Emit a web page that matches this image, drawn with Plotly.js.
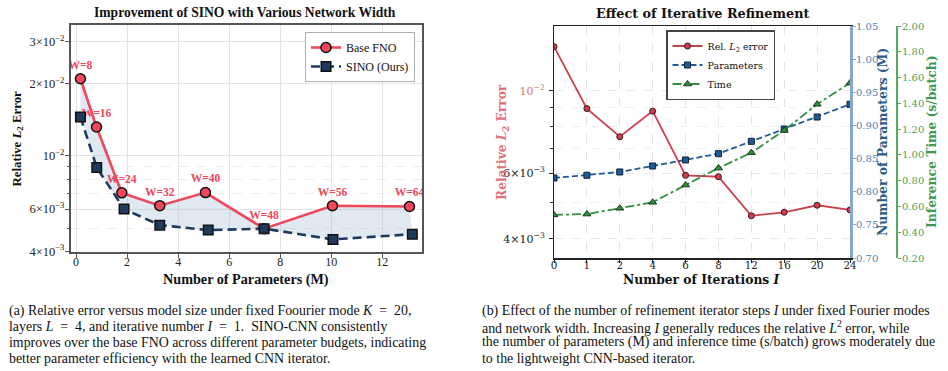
<!DOCTYPE html>
<html>
<head>
<meta charset="utf-8">
<script src="https://cdn.plot.ly/plotly-3.0.1.min.js"></script>
<style>
  html, body { margin: 0; padding: 0; background: #ffffff; }
  #fig { width: 948px; height: 371px; }
</style>
</head>
<body>
<div id="fig"></div>
<script>
// ---- (a) error vs. model size for several network widths ----
const widthLabels = ['W=8', 'W=16', 'W=24', 'W=32', 'W=40', 'W=48', 'W=56', 'W=64'];
const fnoParams  = [0.17, 0.80, 1.79, 3.28, 5.07, 7.37, 10.05, 13.07];
const fnoError   = [0.0210, 0.0132, 0.00701, 0.00620, 0.00703, 0.00497, 0.00619, 0.00615];
const sinoParams = [0.17, 0.81, 1.88, 3.28, 5.18, 7.37, 10.07, 13.18];
const sinoError  = [0.01454, 0.00894, 0.00600, 0.00514, 0.00490, 0.00497, 0.00448, 0.00471];

// ---- (b) effect of the number of refinement iterations ----
const iterations = ['0', '1', '2', '4', '6', '8', '12', '16', '20', '24'];
const relError   = [0.01313, 0.00895, 0.00752, 0.00881, 0.00592, 0.00587, 0.00461, 0.00471, 0.00492, 0.00478];
const paramCount = [0.8207, 0.8248, 0.8298, 0.8388, 0.8479, 0.8574, 0.8760, 0.8946, 0.9127, 0.9319];
const inferTime  = [0.534, 0.541, 0.586, 0.632, 0.766, 0.898, 1.017, 1.190, 1.393, 1.558];

// tick labels
const leftErrTicks = [0.004, 0.006, 0.01, 0.02, 0.03];
const leftErrText  = ['4×10<sup>−3</sup>', '6×10<sup>−3</sup>', '10<sup>−2</sup>', '2×10<sup>−2</sup>', '3×10<sup>−2</sup>'];
const rightErrTicks = [0.004, 0.006, 0.01];
const rightErrText  = ['4×10<sup>−3</sup>', '6×10<sup>−3</sup>', '<span style="color:#e0707a">10<sup>−2</sup></span>'];

const W = 948, H = 371;
const px = v => v / W;
const py = v => 1 - v / H;

const TIMES = 'Liberation Serif, Times New Roman, serif';
const DEJA = 'DejaVu Serif, serif';

const RED_A = '#f0475a', NAVY = '#1f3a5f';
const RED_B = '#cc3f4d', BLUE_B = '#1f5a94', GREEN_B = '#2f8f3f';

const traces = [
  // band between the two curves
  {
    x: fnoParams.concat(sinoParams.slice().reverse()),
    y: fnoError.concat(sinoError.slice().reverse()),
    xaxis: 'x', yaxis: 'y',
    mode: 'lines', fill: 'toself', fillcolor: 'rgba(160,182,210,0.32)',
    line: { width: 0 }, hoverinfo: 'skip', showlegend: false
  },
  {
    name: 'Base FNO', x: fnoParams, y: fnoError, text: widthLabels,
    xaxis: 'x', yaxis: 'y', legend: 'legend',
    mode: 'lines+markers+text', textposition: 'top center',
    textfont: { family: TIMES, size: 11.5, color: RED_A, weight: 'bold' },
    line: { color: RED_A, width: 2.6 },
    marker: { symbol: 'circle', size: 10, color: RED_A, line: { color: '#111', width: 1.5 } }
  },
  {
    name: 'SINO (Ours)', x: sinoParams, y: sinoError,
    xaxis: 'x', yaxis: 'y', legend: 'legend',
    mode: 'lines+markers',
    line: { color: NAVY, width: 2.6, dash: '9px,5px' },
    marker: { symbol: 'square', size: 9.5, color: NAVY, line: { color: '#111', width: 1.5 } }
  },
  {
    name: 'Rel. <i>L</i><sub>2</sub> error', x: iterations, y: relError,
    xaxis: 'x2', yaxis: 'y2', legend: 'legend2',
    mode: 'lines+markers',
    line: { color: RED_B, width: 1.8 },
    marker: { symbol: 'circle', size: 6, color: RED_B, line: { color: '#3a1418', width: 1 } }
  },
  {
    name: 'Parameters', x: iterations, y: paramCount,
    xaxis: 'x2', yaxis: 'y3', legend: 'legend2',
    mode: 'lines+markers',
    line: { color: BLUE_B, width: 1.8, dash: '6px,3px' },
    marker: { symbol: 'square', size: 6, color: BLUE_B, line: { color: '#0d2238', width: 1 } }
  },
  {
    name: 'Time', x: iterations, y: inferTime,
    xaxis: 'x2', yaxis: 'y4', legend: 'legend2',
    mode: 'lines+markers',
    line: { color: GREEN_B, width: 1.8, dash: 'dashdot' },
    marker: { symbol: 'triangle-up', size: 7, color: GREEN_B, line: { color: '#123a18', width: 1 } }
  }
];

const captionFont = { family: TIMES, size: 13.9, color: '#111' };
const capA = [
  '(a) Relative error versus model size under fixed Foourier mode <i>K</i>  =  20,',
  'layers <i>L</i>  =  4, and iterative number <i>I</i>  =  1.  SINO-CNN consistently',
  'improves over the base FNO across different parameter budgets, indicating',
  'better parameter efficiency with the learned CNN iterator.'
];
const capB = [
  '(b) Effect of the number of refinement iterator steps <i>I</i> under fixed Fourier modes',
  'and network width. Increasing <i>I</i> generally reduces the relative <i>L</i><sup>2</sup> error, while',
  'the number of parameters (M) and inference time (s/batch) grows moderately due',
  'to the lightweight CNN-based iterator.'
];
const capY = [311, 326.5, 342, 358];

const annotations = [
  { text: '<b>Improvement of SINO with Various Network Width</b>', x: px(245), y: py(12.5),
    font: { family: TIMES, size: 13.6, color: '#111' } },
  { text: '<b>Effect of Iterative Refinement</b>', x: px(702), y: py(14),
    font: { family: DEJA, size: 12.8, color: '#111' } },
  { text: '<b>Relative <i>L</i><sub>2</sub> Error</b>', x: px(17), y: py(138.5), textangle: -90,
    font: { family: TIMES, size: 12.8, color: '#111' } },
  { text: '<b>Number of Parameters (M)</b>', x: px(246), y: py(279.5),
    font: { family: TIMES, size: 14.2, color: '#111' } },
  { text: '<b>Number of Iterations <i>I</i></b>', x: px(702), y: py(279.5),
    font: { family: DEJA, size: 12.3, color: '#111' } },
  { text: '<b>Relative <i>L</i><sub>2</sub> Error</b>', x: px(503), y: py(142), textangle: -90,
    font: { family: DEJA, size: 12.2, color: '#e0707a' } },
  { text: '<b>Number of Parameters (M)</b>', x: px(882), y: py(142), textangle: -90,
    font: { family: DEJA, size: 12.4, color: '#2b5c8a' } },
  { text: '<b>Inference Time (s/batch)</b>', x: px(931), y: py(142), textangle: -90,
    font: { family: DEJA, size: 12.4, color: '#3e9a4e' } }
].map(a => Object.assign({ xref: 'paper', yref: 'paper', showarrow: false,
  xanchor: 'center', yanchor: 'middle' }, a));

capA.forEach((t, i) => annotations.push({ text: t, x: px(7), y: py(capY[i]), xref: 'paper', yref: 'paper',
  showarrow: false, xanchor: 'left', yanchor: 'middle', align: 'left', font: captionFont }));
capB.forEach((t, i) => annotations.push({ text: t, x: px(480), y: py(capY[i]), xref: 'paper', yref: 'paper',
  showarrow: false, xanchor: 'left', yanchor: 'middle', align: 'left', font: captionFont }));

const layout = {
  width: W, height: H, autosize: false,
  margin: { l: 0, r: 0, t: 0, b: 0, pad: 0 },
  paper_bgcolor: '#ffffff', plot_bgcolor: '#ffffff',
  showlegend: true,
  annotations: annotations,

  // (a)
  xaxis: {
    domain: [px(71), px(422)], anchor: 'y', range: [-0.2, 13.56],
    tickvals: [0, 2, 4, 6, 8, 10, 12], zeroline: false,
    showline: true, mirror: true, linecolor: '#555', linewidth: 2,
    ticks: 'outside', ticklen: 3.5, tickcolor: '#555', tickwidth: 1, ticklabelstandoff: -6,
    showgrid: true, gridcolor: '#e4e4e4', gridwidth: 1,
    tickfont: { family: TIMES, size: 12, color: '#222' }, automargin: false
  },
  yaxis: {
    domain: [py(252), py(25)], anchor: 'x', type: 'log',
    range: [Math.log10(0.00397), Math.log10(0.0352)],
    tickvals: leftErrTicks, ticktext: leftErrText,
    showline: true, mirror: true, linecolor: '#555', linewidth: 2,
    ticks: 'outside', ticklen: 4, tickcolor: '#555', ticklabelstandoff: -2,
    showgrid: true, gridcolor: '#e4e4e4', gridwidth: 1,
    minor: { tickvals: [0.005, 0.007, 0.008, 0.009], ticks: 'outside', ticklen: 2.5, tickcolor: '#555',
             showgrid: true, gridcolor: '#e9e9e9', griddash: 'dash', gridwidth: 0.8 },
    tickfont: { family: TIMES, size: 12.5, color: '#222' }, automargin: false
  },

  // (b)
  xaxis2: {
    domain: [px(554), px(850)], anchor: 'y2', type: 'category',
    categoryorder: 'array', categoryarray: iterations, range: [0, 9],
    showline: true, mirror: true, linecolor: '#222', linewidth: 1.5,
    ticks: 'outside', ticklen: 3, tickcolor: '#222', ticklabelstandoff: -6,
    showgrid: true, gridcolor: '#dddddd', griddash: 'dash', gridwidth: 0.8,
    tickfont: { family: DEJA, size: 10.3, color: '#222' }, automargin: false
  },
  yaxis2: {
    domain: [py(258), py(26)], anchor: 'x2', type: 'log',
    range: [Math.log10(0.00355), Math.log10(0.01492)],
    tickvals: rightErrTicks, ticktext: rightErrText,
    showline: true, linecolor: '#222', linewidth: 1.5,
    ticks: 'outside', ticklen: 3.5, tickcolor: '#222', ticklabelstandoff: 2,
    showgrid: true, gridcolor: '#e2e2e2', griddash: 'dash', gridwidth: 0.8,
    minor: { tickvals: [0.005, 0.007, 0.008, 0.009], ticks: 'outside', ticklen: 2.5, tickcolor: '#222',
             showgrid: true, gridcolor: '#eeeeee', griddash: 'dash', gridwidth: 0.8 },
    tickfont: { family: DEJA, size: 11, color: '#222' }, automargin: false
  },
  yaxis3: {
    overlaying: 'y2', anchor: 'x2', side: 'right',
    range: [0.70, 1.05], tickvals: [0.70, 0.75, 0.80, 0.85, 0.90, 0.95, 1.00, 1.05], tickformat: '.2f',
    showline: true, linecolor: '#86a8cb', linewidth: 2.5,
    ticks: 'outside', ticklen: 3.5, tickcolor: '#86a8cb', ticklabelstandoff: -2,
    showgrid: false, zeroline: false,
    tickfont: { family: DEJA, size: 10, color: '#4f80b0' }, automargin: false
  },
  yaxis4: {
    overlaying: 'y2', anchor: 'free', position: px(896), side: 'right',
    range: [0.20, 2.00], tickvals: [0.2, 0.4, 0.6, 0.8, 1.0, 1.2, 1.4, 1.6, 1.8, 2.0], tickformat: '.2f',
    showline: true, linecolor: '#5aa865', linewidth: 1.5,
    ticks: 'outside', ticklen: 3.5, tickcolor: '#5aa865', ticklabelstandoff: -1,
    showgrid: false, zeroline: false,
    tickfont: { family: DEJA, size: 10, color: '#4e9e5a' }, automargin: false
  },

  legend: {
    x: px(305), y: py(32), xanchor: 'left', yanchor: 'top',
    bgcolor: 'rgba(255,255,255,0.95)', bordercolor: '#b0b0b0', borderwidth: 1,
    font: { family: TIMES, size: 12, color: '#111' }, tracegroupgap: 2, itemwidth: 30
  },
  legend2: {
    x: px(666), y: py(30), xanchor: 'left', yanchor: 'top',
    bgcolor: 'rgba(255,255,255,0.95)', bordercolor: '#444', borderwidth: 1.5,
    font: { family: DEJA, size: 9.5, color: '#111' }, tracegroupgap: 0, itemwidth: 30
  }
};

Plotly.newPlot('fig', traces, layout, { displayModeBar: false, staticPlot: true });
</script>
</body>
</html>
